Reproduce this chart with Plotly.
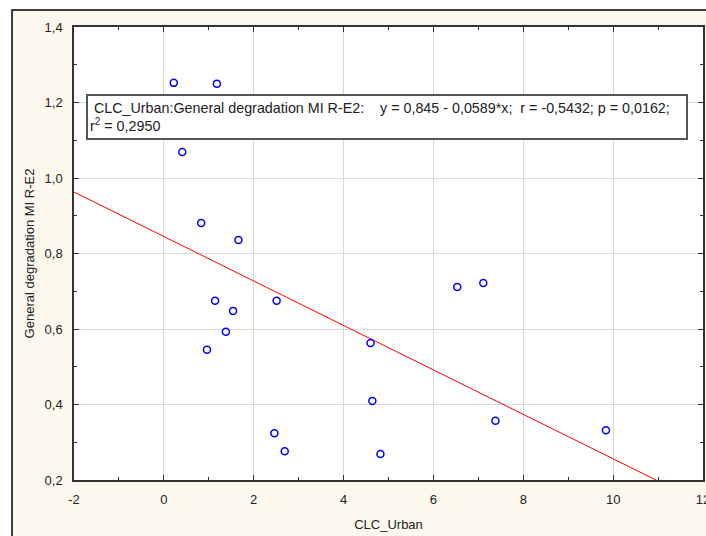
import numpy as np
import plotly.graph_objects as go

# data
x_urban = [0.22, 1.18, 0.41, 0.83, 1.66, 1.14, 1.54, 1.38, 0.96, 2.51,
           2.46, 2.69, 4.60, 4.64, 4.82, 6.53, 7.11, 7.38, 9.84]
y_degr = [1.252, 1.250, 1.069, 0.881, 0.836, 0.675, 0.648, 0.593, 0.545, 0.675,
          0.324, 0.276, 0.563, 0.409, 0.269, 0.711, 0.722, 0.357, 0.332]
intercept = 0.845
slope = -0.0589
x_tickvals = [-2, 0, 2, 4, 6, 8, 10, 12]
x_ticktext = ["-2", "0", "2", "4", "6", "8", "10", "12"]
stats_text = ("\u00a0CLC_Urban:General degradation MI R-E2:\u00a0\u00a0\u00a0\u00a0y = 0,845 - 0,0589*x;"
              "\u00a0\u00a0r = -0,5432; p = 0,0162;<br>r<sup>2</sup> = 0,2950")

FONT = "Arial, Liberation Sans, sans-serif"

fig = go.Figure()

# regression line
xl = np.array([x_tickvals[0], x_tickvals[-1]], dtype=float)
fig.add_trace(go.Scatter(x=xl, y=intercept + slope * xl, mode="lines",
                         line=dict(color="#FF0000", width=1), hoverinfo="skip"))
# points
fig.add_trace(go.Scatter(x=x_urban, y=y_degr, mode="markers",
                         marker=dict(symbol="circle-open", size=7, color="#0000FF",
                                     line=dict(width=1.5, color="#0000FF"))))

axis_common = dict(
    showline=True, linecolor="#333333", linewidth=1.5, mirror="ticks",
    ticks="inside", ticklen=5, tickcolor="#333333",
    showgrid=True, gridcolor="#DADADA", gridwidth=1, zeroline=False,
    tickfont=dict(family=FONT, size=13, color="#222222"),
    ticklabelstandoff=7, ticklabeloverflow="allow", automargin=False,
)

fig.update_xaxes(range=[-2, 12], tickvals=x_tickvals, ticktext=x_ticktext,
                 minor=dict(ticks="inside", dtick=1, ticklen=3, tickcolor="#333333", showgrid=False),
                 title=dict(text="CLC_Urban", font=dict(family=FONT, size=13, color="#222222"), standoff=14),
                 **axis_common)
fig.update_yaxes(range=[0.2, 1.4], dtick=0.2, tick0=0.2, tickformat=".1f",
                 minor=dict(ticks="inside", dtick=0.1, ticklen=3, tickcolor="#333333", showgrid=False),
                 title=dict(text="General degradation MI R-E2", font=dict(family=FONT, size=13, color="#222222"), standoff=7),
                 **axis_common)

fig.add_annotation(xref="paper", yref="paper", x=0.019, y=0.853,
                   xanchor="left", yanchor="top", align="left",
                   text=stats_text, showarrow=False,
                   font=dict(family=FONT, size=14.3, color="#222222"),
                   bgcolor="white", bordercolor="#555555", borderwidth=2, borderpad=2,
                   width=594, height=38)

# cream outer panel with black border, then white plot area
fig.add_shape(type="rect", xref="paper", yref="paper", x0=-0.0985, x1=1.2, y0=-0.5, y1=1.0375,
              fillcolor="#FDF8EE", line=dict(color="black", width=1.5), layer="below")
fig.add_shape(type="rect", xref="paper", yref="paper", x0=0, x1=1, y0=0, y1=1,
              fillcolor="white", line=dict(width=0), layer="below")

fig.update_layout(
    width=706, height=536,
    margin=dict(l=74, r=3, t=27, b=56, autoexpand=False),
    paper_bgcolor="white", plot_bgcolor="white",
    separators=", ",
    showlegend=False,
    font=dict(family=FONT, size=13, color="#222222"),
)

# the page body has a default 8px margin; drop it so the figure sits at 0,0
fig.write_html("out.html", config={"displayModeBar": False},
               post_script="document.body.style.margin='0';document.body.style.overflow='hidden';")
